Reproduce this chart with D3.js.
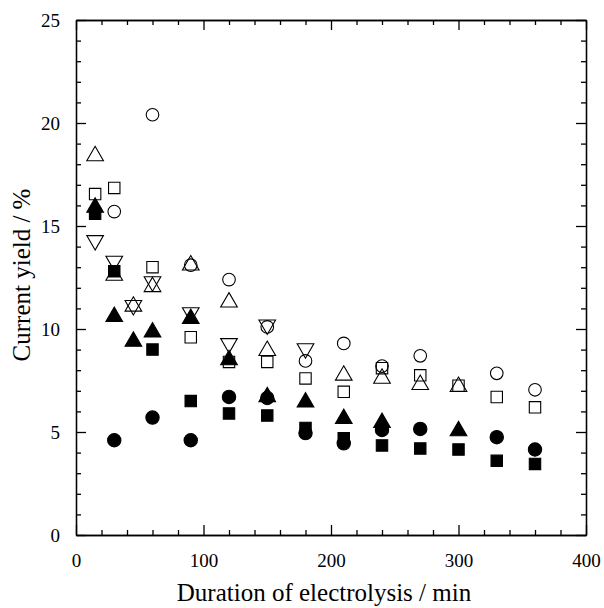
<!DOCTYPE html>
<html>
<head>
<meta charset="utf-8">
<script src="https://cdn.jsdelivr.net/npm/d3@7"></script>
<style>
  body { margin: 0; background: #fff; }
  svg { display: block; }
  .axis path, .axis line { stroke: #000; stroke-width: 1.3; }
</style>
</head>
<body>
<div id="vis"></div>
<script>
// time of electrolysis (min) and current yield (%) per series
var openCircleX   = [30, 60, 90, 120, 150, 180, 210, 240, 270, 330, 360];
var openCircleY   = [15.7, 20.4, 13.1, 12.4, 10.1, 8.45, 9.3, 8.2, 8.7, 7.85, 7.05];

var openUpX       = [15, 30, 45, 60, 90, 120, 150, 210, 240, 270, 300];
var openUpY       = [18.4, 12.6, 11.1, 12.05, 13.1, 11.3, 8.95, 7.75, 7.6, 7.3, 7.2];

var openSquareX   = [15, 30, 60, 90, 120, 150, 180, 210, 240, 270, 300, 330, 360];
var openSquareY   = [16.55, 16.85, 13.0, 9.6, 8.4, 8.4, 7.6, 6.95, 8.1, 7.75, 7.25, 6.7, 6.2];

var openDownX     = [15, 30, 45, 60, 90, 120, 150, 180];
var openDownY     = [14.3, 13.3, 11.15, 12.3, 10.8, 9.3, 10.2, 9.05];

var fillUpX       = [15, 30, 45, 60, 90, 120, 150, 180, 210, 240, 300];
var fillUpY       = [15.9, 10.6, 9.4, 9.85, 10.5, 8.5, 6.7, 6.45, 5.65, 5.45, 5.05];

var fillSquareX   = [15, 30, 60, 90, 120, 150, 180, 210, 240, 270, 300, 330, 360];
var fillSquareY   = [15.6, 12.8, 9.0, 6.5, 5.9, 5.8, 5.2, 4.7, 4.35, 4.2, 4.15, 3.6, 3.45];

var fillCircleX   = [30, 60, 90, 120, 150, 180, 210, 240, 270, 330, 360];
var fillCircleY   = [4.6, 5.7, 4.6, 6.7, 6.65, 4.95, 4.45, 5.1, 5.15, 4.75, 4.15];

var xMajor = [0, 100, 200, 300, 400];
var yMajor = [0, 5, 10, 15, 20, 25];

var serif = "'Liberation Serif', 'DejaVu Serif', serif";

var margin = {top: 20, right: 18, bottom: 73, left: 76};
var width = 604 - margin.left - margin.right,
    height = 608 - margin.top - margin.bottom;

var svg = d3.select("#vis").append("svg")
  .attr("width", 604)
  .attr("height", 608);

var g = svg.append("g")
  .attr("transform", "translate(" + margin.left + "," + margin.top + ")");

var x = d3.scaleLinear().domain([0, 400]).range([0, width]);
var y = d3.scaleLinear().domain([0, 25]).range([height, 0]);

var xMinor = d3.range(0, 401, 20).filter(function(v) { return xMajor.indexOf(v) < 0; });
var yMinor = d3.range(0, 26, 1).filter(function(v) { return yMajor.indexOf(v) < 0; });

// bottom + left with labels, ticks pointing inward
var xAx = g.append("g").attr("class", "axis")
  .attr("transform", "translate(0," + height + ")")
  .call(d3.axisBottom(x).tickValues(xMajor).tickSizeInner(-10).tickSizeOuter(0).tickPadding(19));
g.append("g").attr("class", "axis")
  .attr("transform", "translate(0," + height + ")")
  .call(d3.axisBottom(x).tickValues(xMinor).tickSizeInner(-5).tickSizeOuter(0).tickFormat(""));
var yAx = g.append("g").attr("class", "axis")
  .call(d3.axisLeft(y).tickValues(yMajor).tickSizeInner(-10).tickSizeOuter(0).tickPadding(16));
g.append("g").attr("class", "axis")
  .call(d3.axisLeft(y).tickValues(yMinor).tickSizeInner(-5).tickSizeOuter(0).tickFormat(""));

// mirrored top + right
g.append("g").attr("class", "axis")
  .call(d3.axisTop(x).tickValues(xMajor).tickSizeInner(-10).tickSizeOuter(0).tickFormat(""));
g.append("g").attr("class", "axis")
  .call(d3.axisTop(x).tickValues(xMinor).tickSizeInner(-5).tickSizeOuter(0).tickFormat(""));
g.append("g").attr("class", "axis")
  .attr("transform", "translate(" + width + ",0)")
  .call(d3.axisRight(y).tickValues(yMajor).tickSizeInner(-10).tickSizeOuter(0).tickFormat(""));
g.append("g").attr("class", "axis")
  .attr("transform", "translate(" + width + ",0)")
  .call(d3.axisRight(y).tickValues(yMinor).tickSizeInner(-5).tickSizeOuter(0).tickFormat(""));

xAx.attr("font-family", null).attr("font-size", null);
yAx.attr("font-family", null).attr("font-size", null);
g.selectAll(".axis text")
  .style("font-family", serif)
  .style("font-size", "19px")
  .style("fill", "#000");

var series = [
  {xs: openSquareX, ys: openSquareY, shape: d3.symbolSquare, size: 130, fill: "none"},
  {xs: openUpX, ys: openUpY, shape: d3.symbolTriangle, size: 120, fill: "none"},
  {xs: openDownX, ys: openDownY, shape: d3.symbolTriangle, size: 120, fill: "none", rot: 180},
  {xs: openCircleX, ys: openCircleY, shape: d3.symbolCircle, size: 125, fill: "none"},
  {xs: fillUpX, ys: fillUpY, shape: d3.symbolTriangle, size: 120, fill: "#000"},
  {xs: fillSquareX, ys: fillSquareY, shape: d3.symbolSquare, size: 130, fill: "#000"},
  {xs: fillCircleX, ys: fillCircleY, shape: d3.symbolCircle, size: 140, fill: "#000"}
];

series.forEach(function(s) {
  var pts = s.xs.map(function(v, i) { return {x: v, y: s.ys[i]}; });
  g.append("g").selectAll("path")
    .data(pts)
    .enter().append("path")
    .attr("d", d3.symbol().type(s.shape).size(s.size))
    .attr("transform", function(d) {
      return "translate(" + x(d.x) + "," + y(d.y) + ")" + (s.rot ? " rotate(" + s.rot + ")" : "");
    })
    .attr("fill", s.fill)
    .attr("stroke", "#000")
    .attr("stroke-width", 1.1);
});

svg.append("text")
  .attr("x", 324)
  .attr("y", 601)
  .attr("text-anchor", "middle")
  .style("font-family", serif)
  .style("font-size", "25px")
  .text("Duration of electrolysis / min");

svg.append("text")
  .attr("transform", "translate(30,275) rotate(-90)")
  .attr("text-anchor", "middle")
  .style("font-family", serif)
  .style("font-size", "25px")
  .text("Current yield / %");
</script>
</body>
</html>
